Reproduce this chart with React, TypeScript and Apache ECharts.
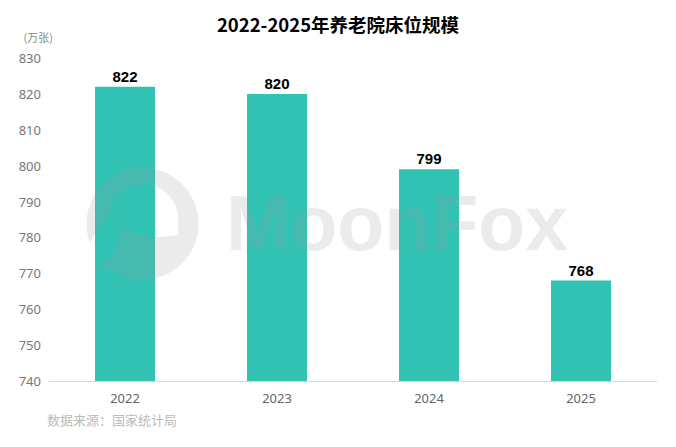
import React, { useEffect, useRef } from "react";
import * as echarts from "echarts";

const categories = ["2022", "2023", "2024", "2025"];
const values = [822, 820, 799, 768];
const yMin = 740;
const yMax = 830;
const yInterval = 10;

const LOGO_D =
  "M 96 268 L 111 270 A 56 56 0 1 0 90 243 Q 96 230 108 218 A 35 35 0 0 1 178 220 L 178 235 L 160 237 Q 130 237 120 222 Q 123 258 96 268 Z";

let registered = false;

export default function App() {
  const ref = useRef<HTMLDivElement>(null);
  useEffect(() => {
    document.body.style.margin = "0";
    if (!ref.current) return;
    if (!registered) {
      echarts.graphic.registerShape("mflogo", echarts.graphic.extendPath(LOGO_D, {}));
      registered = true;
    }
    const chart = echarts.init(ref.current, null, { renderer: "svg" });
    chart.setOption({
      animation: false,
      backgroundColor: "#fff",
      title: {
        text: "2022-2025年养老院床位规模",
        left: "center",
        top: 10,
        textStyle: {
          fontFamily: "Noto Sans CJK SC",
          fontWeight: "bold",
          fontSize: 18.5,
          color: "#000",
        },
      },
      grid: { left: 49, right: 19, top: 58, bottom: 66 },
      xAxis: {
        type: "category",
        data: categories,
        axisLine: { lineStyle: { color: "#d9d9d9", width: 1 } },
        axisTick: { show: false },
        axisLabel: {
          color: "#666",
          fontSize: 13,
          margin: 10,
          fontFamily: "Noto Sans, sans-serif",
        },
      },
      yAxis: {
        type: "value",
        min: yMin,
        max: yMax,
        interval: yInterval,
        name: "(万张)",
        nameLocation: "end",
        nameGap: 16,
        nameTextStyle: {
          color: "#888",
          fontSize: 11,
          align: "right",
          padding: [0, -4, 0, 0],
          fontFamily: "Noto Sans CJK SC",
        },
        axisLine: { show: false },
        axisTick: { show: false },
        splitLine: { show: false },
        axisLabel: {
          color: "#777",
          fontSize: 13,
          margin: 8,
          fontFamily: "Noto Sans, sans-serif",
        },
      },
      series: [
        {
          type: "bar",
          data: values,
          barWidth: 60,
          z: 2,
          itemStyle: { color: "#31C2B4" },
          label: {
            show: true,
            position: "top",
            distance: 3,
            color: "#000",
            fontWeight: "bold",
            fontSize: 15,
            fontFamily: "Liberation Sans, Arial, sans-serif",
          },
        },
      ],
      graphic: [
        {
          type: "mflogo",
          z: 100,
          silent: true,
          x: 0,
          y: 0,
          style: { fill: "#999", opacity: 0.2 },
        },
        {
          type: "text",
          z: 100,
          silent: true,
          x: 226,
          y: 223,
          style: {
            text: "MoonFox",
            fontSize: 77,
            fontWeight: "bold",
            fontFamily: "Liberation Sans, Arial, sans-serif",
            fill: "#999",
            opacity: 0.2,
            verticalAlign: "middle",
            align: "left",
          },
        },
        {
          type: "text",
          left: 47,
          top: 413,
          style: {
            text: "数据来源：国家统计局",
            fontSize: 13,
            fill: "#bbb",
            fontFamily: "Noto Sans CJK SC",
          },
        },
      ],
    });
    return () => chart.dispose();
  }, []);
  return <div ref={ref} style={{ width: 676, height: 447 }} />;
}
